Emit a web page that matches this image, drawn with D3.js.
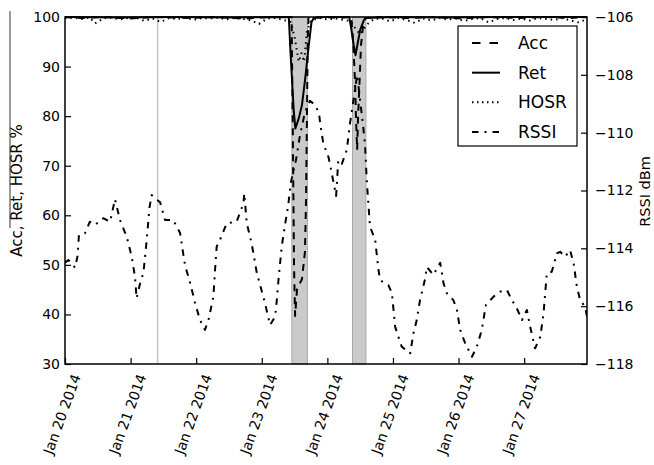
<!DOCTYPE html>
<html><head><meta charset="utf-8">
<script src="https://cdn.jsdelivr.net/npm/d3@7"></script>
<style>
html,body{margin:0;padding:0;background:#fff;}
svg{display:block;font-family:"DejaVu Sans",sans-serif;}
</style></head>
<body>
<svg id="chart" width="654" height="465"></svg>
<script>
// ---- data (hours from Jan 20 2014 00:00) ----
const rssiHours = [0,1.2,3.7,4.6,5.1,7.3,9.1,11.0,14.0,16.5,18.3,20.1,22.6,24.4,25.6,26.2,27.5,28.7,29.9,30.9,31.7,34.8,36.6,39.6,42.1,43.9,45.8,47.6,49.4,51.2,52.5,54.3,54.9,55.5,56.7,59.2,62.8,65.3,65.6,66.5,68.3,70.2,73.2,75.0,76.9,77.5,78.1,79.3,80.5,81.7,82.6,84.5,86.0,87.8,89.6,91.0,92.9,93.4,94.5,96.4,97.6,99.2,100.0,101.3,103.1,104.3,106.9,109.2,109.8,110.4,111.6,113.5,114.7,115.3,118.3,119.6,120.8,122.0,123.2,126.3,127.5,128.7,129.9,131.8,132.4,134.8,137.3,138.5,139.7,142.1,143.4,144.6,146.4,148.9,150.7,152.5,154.0,156.8,159.2,161.7,163.5,165.3,167.2,169.0,170.2,172.0,173.9,175.1,176.3,178.1,180.0,181.2,183.0,184.8,186.1,187.3,188.5,190.3,191.0];
const rssiValues = [-114.5,-114.4,-114.67,-114.26,-113.54,-113.48,-113.08,-113.19,-112.96,-113.08,-112.30,-113.02,-113.6,-114.29,-114.98,-115.73,-115.2,-114.85,-113.71,-112.6,-112.16,-112.41,-113.02,-113.02,-113.47,-114.58,-115.2,-115.89,-116.48,-116.82,-116.48,-115.67,-114.75,-113.94,-113.71,-113.13,-113.08,-112.44,-112.1,-113.13,-113.83,-114.86,-115.9,-116.65,-116.36,-115.79,-115.1,-113.94,-113.19,-112.5,-111.74,-110.95,-110.08,-109.29,-108.9,-109.0,-109.29,-109.7,-110.36,-110.84,-111.4,-112.19,-110.95,-111.08,-110.6,-109.67,-108.0,-109.87,-110.43,-111.64,-113.25,-113.71,-114.75,-115.1,-115.27,-115.54,-116.71,-117.06,-117.4,-117.63,-116.94,-116.48,-115.79,-115.04,-114.64,-114.92,-114.5,-115.21,-115.55,-115.79,-116.13,-116.82,-117.28,-117.75,-117.4,-116.82,-115.96,-115.67,-115.5,-115.44,-115.79,-116.07,-116.48,-116.13,-116.71,-117.46,-117.06,-116.25,-114.86,-114.81,-114.17,-114.12,-114.29,-114.06,-114.52,-115.33,-115.79,-116.02,-116.36];

const accHours = [0,6,15,24,33,45,55,66,75,82.9,83.3,83.6,83.8,84.2,84.9,86.7,87.8,88.2,88.6,88.8,89.1,95,100,104.7,105.4,106.1,106.5,106.9,107.2,107.8,108.3,109.1,109.8,115,125,135,145,155,165,175,185,191];
const accValues = [100,99.8,100,99.7,100,99.8,100,99.7,100,100,80,62,50,39.7,45.1,47.1,52.6,63.1,83.3,95.4,99.8,100,99.8,100,95.4,87.3,79.2,73.2,79.2,87.3,94.3,98.4,99.8,100,99.8,100,99.7,100,99.8,100,99.8,100];

const retHours = [0,20,40,60,81.9,82.5,83.1,83.7,84.3,85.5,86.7,87.9,89.2,90.2,91.0,95,104,104.7,105.6,106.3,107.0,108.0,109.4,110.4,120,140,160,191];
const retValues = [100,99.9,100,99.9,100,93,87,81,77.5,79.5,82.2,87.6,94.3,99.0,99.8,100,100,97.8,94.4,92.3,94.4,97.4,99.4,99.8,100,99.9,100,100];

const hosrHours = [0,3,6,9,11,14,17,20,23,26,29,32,35,38,41,44,47,50,53,56,59,62,65,68,71,74,77,80,82.5,84,85.5,86.5,87.5,88.5,90,93,96,99,102,104.5,106.5,108,110.5,113,116,119,122,125,128,131,134,137,140,143,146,149,152,155,158,161,164,167,170,173,176,179,182,185,188,191];
const hosrValues = [99.8,99.9,99.6,99.9,98.7,99.7,99.9,99.5,99.8,99.9,99.2,99.7,99.0,99.8,99.6,99.9,99.4,99.8,99.7,99.9,99.5,99.8,99.6,99.3,98.6,99.7,99.8,99.4,99.0,96,91,92.7,91,97,99.3,99.8,99.5,99.7,99.4,99.2,97.5,96.5,98.5,99.6,99.7,99.1,99.8,99.4,98.8,99.7,99.3,99.8,99.5,99.7,99.2,99.6,99.8,98.9,99.6,99.8,99.4,99.7,99.3,99.8,99.6,99.4,99.8,99.3,98.9,99.6];

const shadeStartHours = [83.0, 105.2];
const shadeEndHours = [88.7, 110.1];
const markerHours = [33.9];
const endHour = 191;

const leftTicks = [30,40,50,60,70,80,90,100];
const rightTicks = [-118,-116,-114,-112,-110,-108,-106];
const legendLabels = ["Acc","Ret","HOSR","RSSI"];
const leftLabel = "Acc, Ret, HOSR %";
const rightLabel = "RSSI dBm";

// ---- layout ----
const W = 654, H = 465;
const m = {left:65, top:17, right:67, bottom:101};
const pw = W - m.left - m.right, ph = H - m.top - m.bottom;
const start = new Date(2014, 0, 20);
const tOf = h => new Date(start.getTime() + h * 3600000);

const x = d3.scaleTime().domain([start, tOf(endHour)]).range([m.left, m.left + pw]);
const yL = d3.scaleLinear().domain([30, 100]).range([m.top + ph, m.top]);
const yR = d3.scaleLinear().domain([-118, -106]).range([m.top + ph, m.top]);

const svg = d3.select("#chart");
svg.append("defs").append("clipPath").attr("id","clip")
  .append("rect").attr("x", m.left).attr("y", m.top - 2).attr("width", pw).attr("height", ph + 4);

const plot = svg.append("g").attr("clip-path","url(#clip)");

// shaded spans
plot.selectAll("rect.span").data(shadeStartHours).join("rect")
  .attr("class","span")
  .attr("x", (d) => x(tOf(d)))
  .attr("y", m.top)
  .attr("width", (d,i) => x(tOf(shadeEndHours[i])) - x(tOf(d)))
  .attr("height", ph)
  .attr("fill", "#cacaca")
  .attr("stroke", "#a8a8a8")
  .attr("stroke-width", 1);

// marker line
plot.selectAll("line.marker").data(markerHours).join("line")
  .attr("x1", d => x(tOf(d))).attr("x2", d => x(tOf(d)))
  .attr("y1", m.top).attr("y2", m.top + ph)
  .attr("stroke", "#c4c4c4").attr("stroke-width", 1.5);

function series(hours, values, yScale, dash) {
  const pts = hours.map((h, i) => [x(tOf(h)), yScale(values[i])]);
  plot.append("path")
    .attr("d", d3.line()(pts))
    .attr("fill", "none")
    .attr("stroke", "#000")
    .attr("stroke-width", 2)
    .attr("stroke-linejoin", "round")
    .attr("stroke-dasharray", dash);
}
const dashes = {Acc: "7,6", Ret: null, HOSR: "1.5,4", RSSI: "6.5,6,2,6"};
const legendDashes = {Acc: "8.5,9", Ret: null, HOSR: "1.5,3.5", RSSI: "6.5,6,2,6"};
series(rssiHours, rssiValues, yR, dashes.RSSI);
series(hosrHours, hosrValues, yL, dashes.HOSR);
series(accHours, accValues, yL, dashes.Acc);
series(retHours, retValues, yL, dashes.Ret);

// axes
const fontTick = 14;
const ax = svg.append("g");
const leftAxis = ax.append("g").attr("transform", `translate(${m.left},0)`)
  .call(d3.axisLeft(yL).tickValues(leftTicks).tickSize(-6).tickPadding(5).tickFormat(d3.format("d")));
const rightAxis = ax.append("g").attr("transform", `translate(${m.left + pw},0)`)
  .call(d3.axisRight(yR).tickValues(rightTicks).tickSize(-6).tickPadding(8).tickFormat(d3.format("d")));
const dayTicks = d3.timeDay.range(start, tOf(endHour));
const bottomAxis = ax.append("g").attr("transform", `translate(0,${m.top + ph})`)
  .call(d3.axisBottom(x).tickValues(dayTicks).tickSize(-6).tickFormat(""));
[leftAxis, rightAxis, bottomAxis].forEach(g => {
  g.select(".domain").remove();
  g.selectAll(".tick line").attr("stroke", "#000").attr("stroke-width", 1.2);
  g.selectAll(".tick text").attr("font-size", fontTick).attr("fill", "#000")
    .attr("font-family", "DejaVu Sans");
});

// rotated date labels
const fmt = d3.timeFormat("%b %d %Y");
svg.append("g").selectAll("text").data(dayTicks).join("text")
  .attr("transform", d => `translate(${x(d) - 3},414) rotate(-70)`)
  .attr("text-anchor", "middle")
  .attr("dominant-baseline", "central")
  .attr("font-size", fontTick)
  .attr("fill", "#000")
  .text(d => fmt(d));

// frame
svg.append("rect").attr("x", m.left).attr("y", m.top).attr("width", pw).attr("height", ph)
  .attr("fill", "none").attr("stroke", "#000").attr("stroke-width", 1.5);

// axis labels
svg.append("text").attr("transform", `translate(21.5,${m.top + ph/2}) rotate(-90)`)
  .attr("text-anchor", "middle").attr("font-size", 15).attr("fill", "#000").text(leftLabel);
svg.append("text").attr("transform", `translate(650,${m.top + ph/2 + 1}) rotate(-90)`)
  .attr("text-anchor", "middle").attr("font-size", 14.5).attr("fill", "#000").text(rightLabel);
// thin stray rule at far left
svg.append("line").attr("x1", 10).attr("x2", 10).attr("y1", 11).attr("y2", 228)
  .attr("stroke", "#333").attr("stroke-width", 1);

// legend
const lg = svg.append("g");
lg.append("rect").attr("x", 458).attr("y", 26).attr("width", 119).attr("height", 120)
  .attr("fill", "#fff").attr("stroke", "#000").attr("stroke-width", 1.2);
const ly = d3.scalePoint().domain(legendLabels).range([43, 132]);
legendLabels.forEach(name => {
  lg.append("line").attr("x1", 472).attr("x2", 500).attr("y1", ly(name)).attr("y2", ly(name))
    .attr("stroke", "#000").attr("stroke-width", 2).attr("stroke-dasharray", legendDashes[name]);
  lg.append("text").attr("x", 518).attr("y", ly(name)).attr("dy", "0.36em")
    .attr("font-size", 17).attr("fill", "#000").text(name);
});
</script>
</body></html>
